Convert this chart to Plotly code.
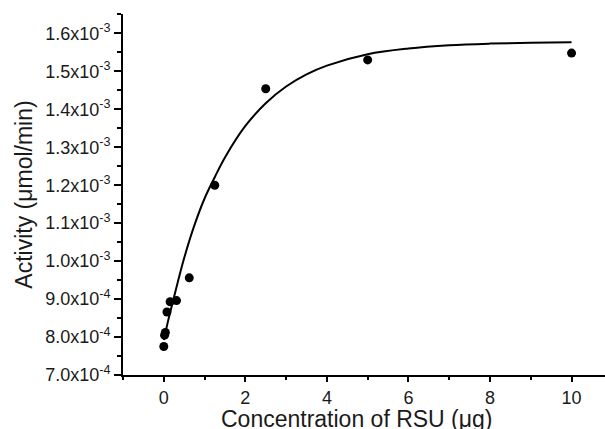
import plotly.graph_objects as go

# Measured points
conc = [0, 0.0195, 0.039, 0.078, 0.156, 0.3125, 0.625, 1.25, 2.5, 5, 10]
activity = [7.75e-4, 8.05e-4, 8.12e-4, 8.66e-4, 8.93e-4, 8.96e-4, 9.56e-4,
            1.200e-3, 1.454e-3, 1.530e-3, 1.548e-3]

# Fitted curve
curve_x = [0, 0.1, 0.25, 0.5, 0.75, 1.0, 1.25, 1.5, 2.0, 2.5, 3.0, 3.5, 4.0,
           5.0, 6.0, 7.0, 8.0, 9.0, 10.0]
curve_y = [7.92e-4, 8.40e-4, 9.05e-4, 1.008e-3, 1.094e-3, 1.165e-3, 1.221e-3,
           1.273e-3, 1.356e-3, 1.416e-3, 1.460e-3, 1.492e-3, 1.515e-3,
           1.545e-3, 1.560e-3, 1.5686e-3, 1.573e-3, 1.5754e-3, 1.5766e-3]

ytick_vals = [7e-4, 8e-4, 9e-4, 1.0e-3, 1.1e-3, 1.2e-3, 1.3e-3, 1.4e-3, 1.5e-3, 1.6e-3]
ytick_text = ["7.0x10<sup>-4</sup>", "8.0x10<sup>-4</sup>", "9.0x10<sup>-4</sup>",
              "1.0x10<sup>-3</sup>", "1.1x10<sup>-3</sup>", "1.2x10<sup>-3</sup>",
              "1.3x10<sup>-3</sup>", "1.4x10<sup>-3</sup>", "1.5x10<sup>-3</sup>",
              "1.6x10<sup>-3</sup>"]
xtick_vals = [0, 2, 4, 6, 8, 10]
x_title = "Concentration of RSU (μg)"
y_title = "Activity (μmol/min)"

fig = go.Figure()
fig.add_trace(go.Scatter(x=curve_x, y=curve_y, mode="lines",
                         line=dict(color="black", width=2, shape="spline"),
                         showlegend=False, hoverinfo="skip"))
fig.add_trace(go.Scatter(x=conc, y=activity, mode="markers",
                         marker=dict(color="black", size=9),
                         showlegend=False))

font_family = "Liberation Sans, Arial, sans-serif"
txt_color = "#1a1a1a"
fig.update_layout(
    width=605, height=429,
    margin=dict(l=123, r=0, t=14, b=54),
    paper_bgcolor="white", plot_bgcolor="white",
    font=dict(family=font_family, color=txt_color, size=18),
    xaxis=dict(
        range=[-1, 10.82], tickvals=xtick_vals, automargin=False,
        showline=True, linecolor="black", linewidth=2,
        ticks="outside", ticklen=5, tickwidth=2, tickcolor="black",
        minor=dict(dtick=1, ticks="outside", ticklen=3, tickwidth=2, tickcolor="black"),
        showgrid=False, zeroline=False,
        tickfont=dict(size=18),
    ),
    yaxis=dict(
        range=[7e-4, 1.651e-3], tickvals=ytick_vals, ticktext=ytick_text, automargin=False,
        showline=True, linecolor="black", linewidth=2,
        ticks="outside", ticklen=7, tickwidth=2, tickcolor="black",
        minor=dict(dtick=5e-5, tick0=7e-4, ticks="outside", ticklen=4, tickwidth=2, tickcolor="black"),
        showgrid=False, zeroline=False,
        tickfont=dict(size=18),
        title=dict(text=y_title, font=dict(size=23), standoff=6),
    ),
    annotations=[dict(
        text=x_title, xref="paper", yref="paper", x=0.484, y=-0.080,
        xanchor="center", yanchor="top", showarrow=False,
        font=dict(size=23, family=font_family, color=txt_color),
    )],
)

fig.write_html(
    "out.html",
    config={"displayModeBar": False},
    post_script="document.body.style.margin='0';document.body.style.overflow='hidden';",
)
